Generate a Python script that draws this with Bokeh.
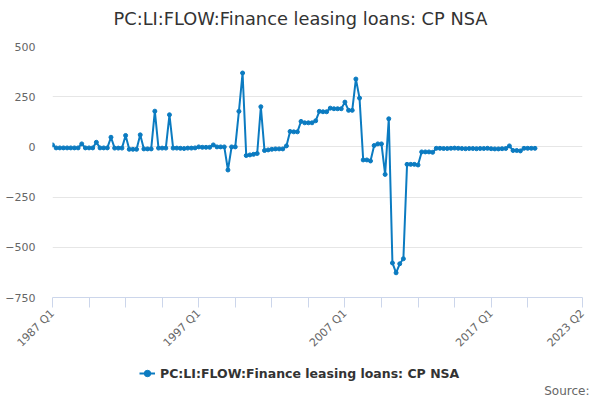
import math
from bokeh.plotting import figure
from bokeh.layouts import column
from bokeh.models import (Range1d, FixedTicker, Label, Legend, LegendItem, ColumnDataSource)
from bokeh.embed import file_html
from bokeh.resources import INLINE

# ---- data (quarterly, starting 1987 Q1) ----
start_year = 1987
values = [
    10, -5, -5, -5, -5, -5, -5, -5,          # 1987-1988
    15, -5, -5, -5, 23, -5, -5, -5,          # 1989-1990
    48, -6, -6, -6, 57, -12, -12, -12,       # 1991-1992
    60, -10, -10, -10, 178, -6, -6, -6,      # 1993-1994
    160, -6, -6, -7, -8, -6, -6, -5,         # 1995-1996
    0, -2, -2, -2, 10, 0, 0, 0,              # 1997-1998
    -115, 0, 0, 177, 368, -43, -40, -37,     # 1999-2000
    -33, 200, -18, -15, -12, -10, -10, -10,  # 2001-2002
    5, 77, 75, 75, 127, 120, 120, 120,       # 2003-2004
    130, 177, 175, 175, 193, 190, 190, 190,  # 2005-2006
    223, 182, 182, 338, 243, -65, -65, -70,  # 2007-2008
    7, 15, 15, -137, 140, -578, -627, -582,  # 2009-2010
    -557, -87, -87, -87, -90, -25, -25, -25, # 2011-2012
    -27, -7, -7, -8, -8, -7, -6, -7,         # 2013-2014
    -8, -9, -8, -8, -9, -8, -8, -7,          # 2015-2016
    -9, -10, -10, -9, -8, 5, -18, -18,       # 2017-2018
    -20, -7, -7, -7, -7,                     # 2019-2020 Q1
]
series_name = "PC:LI:FLOW:Finance leasing loans: CP NSA"
title_text = "PC:LI:FLOW:Finance leasing loans: CP NSA"
source_text = "Source:"
x_tick_positions = [0, 10, 20, 30, 40, 50, 60, 70, 80, 90, 100, 110, 120, 130, 145]
x_tick_labels = ["1987 Q1", "", "", "", "1997 Q1", "", "", "", "2007 Q1", "", "", "", "2017 Q1", "", "2023 Q2"]
y_ticks = [-750, -500, -250, 0, 250, 500]

idx = list(range(len(values)))
quarters = [f"{start_year + i // 4} Q{i % 4 + 1}" for i in idx]
src = ColumnDataSource(dict(x=idx, y=values, q=quarters))

FONT = "DejaVu Sans"
BLUE = "#0b7bc1"


def blank_figure(h):
    fig = figure(width=600, height=h, output_backend="svg", toolbar_location=None,
                 x_range=Range1d(0, 600), y_range=Range1d(0, h),
                 x_axis_location=None, y_axis_location=None,
                 min_border_left=0, min_border_right=0, min_border_top=0, min_border_bottom=0)
    fig.frame_align = False
    fig.grid.visible = False
    fig.outline_line_color = None
    fig.background_fill_color = "white"
    fig.border_fill_color = "white"
    return fig


# ---------------- header: title ----------------
HEAD_H = 36
h = blank_figure(HEAD_H)
h.add_layout(Label(x=300, y=HEAD_H - 18, text=title_text, text_align="center", text_baseline="middle",
                   text_font=FONT, text_font_size="17.8px", text_color="#333333"))

# ---------------- main chart ----------------
MAIN_H = 324
p = figure(width=600, height=MAIN_H, output_backend="svg", toolbar_location=None,
           x_range=Range1d(0, 145), y_range=Range1d(-750, 500),
           min_border_left=52, min_border_right=18, min_border_top=46 - HEAD_H,
           min_border_bottom=HEAD_H + MAIN_H - 297)
p.frame_align = False
p.outline_line_color = None
p.background_fill_color = "white"
p.border_fill_color = "white"

p.line("x", "y", source=src, line_color=BLUE, line_width=2)
p.scatter("x", "y", source=src, size=4, fill_color=BLUE, line_color=BLUE)

xa = p.xaxis[0]
xa.ticker = FixedTicker(ticks=x_tick_positions, minor_ticks=[])
xa.major_label_overrides = {t: l for t, l in zip(x_tick_positions, x_tick_labels)}
xa.major_label_orientation = math.pi / 4
xa.axis_line_color = "#ccd6eb"
xa.major_tick_line_color = "#ccd6eb"
xa.major_tick_out = 10
xa.major_tick_in = 0
xa.minor_tick_line_color = None
xa.major_label_text_color = "#666666"
xa.major_label_text_font = FONT
xa.major_label_text_font_size = "11px"
xa.major_label_standoff = 4

ya = p.yaxis[0]
ya.ticker = FixedTicker(ticks=y_ticks, minor_ticks=[])
ya.axis_line_color = None
ya.major_tick_line_color = None
ya.major_tick_out = 0
ya.major_tick_in = 0
ya.minor_tick_line_color = None
ya.major_label_text_color = "#666666"
ya.major_label_text_font = FONT
ya.major_label_text_font_size = "11px"
ya.major_label_standoff = 17

p.xgrid.grid_line_color = None
p.ygrid.grid_line_color = "#e6e6e6"
p.ygrid.ticker = FixedTicker(ticks=y_ticks)

# ---------------- footer: legend + source ----------------
FOOT_H = 40
f = blank_figure(FOOT_H)
nan = float("nan")
lr = f.line(x=[nan], y=[nan], line_color=BLUE, line_width=2)
sr = f.scatter(x=[nan], y=[nan], size=4, fill_color=BLUE, line_color=BLUE)

legend = Legend(items=[LegendItem(label=series_name, renderers=[lr, sr])],
                location=(139, 19), orientation="horizontal",
                glyph_width=16, glyph_height=16, label_standoff=5, padding=0, margin=0,
                border_line_color=None, background_fill_alpha=0,
                label_text_font=FONT, label_text_font_size="12.5px",
                label_text_font_style="bold", label_text_color="#333333")
f.add_layout(legend, "center")

f.add_layout(Label(x=589, y=10, text=source_text, text_align="right", text_baseline="middle",
                   text_font=FONT, text_font_size="12px", text_color="#666666"))

layout = column(h, p, f, spacing=0)
open("out.html", "w").write(file_html(layout, INLINE))
